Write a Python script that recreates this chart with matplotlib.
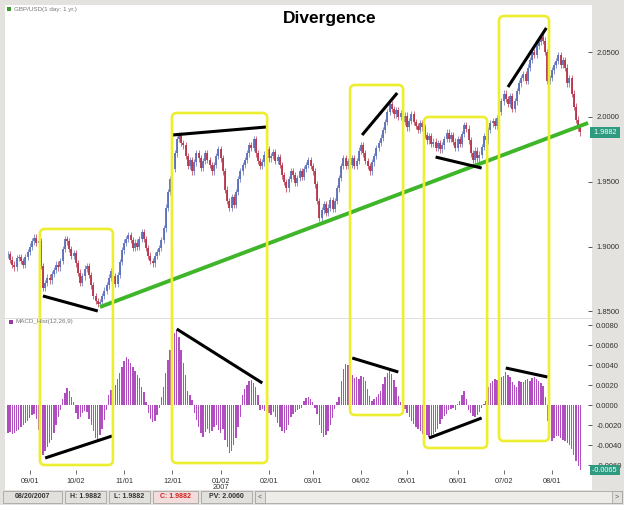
import numpy as np
import pandas as pd
import matplotlib
matplotlib.use('Agg')
import matplotlib.pyplot as plt
from matplotlib.patches import FancyBboxPatch, Rectangle
from matplotlib.lines import Line2D
from matplotlib.transforms import IdentityTransform

plt.rcParams['font.family'] = ['Liberation Sans', 'DejaVu Sans']

# GBP/USD daily closes, 2006-08-18 .. 2007-08-20
closes = [
    1.894, 1.890, 1.886, 1.884, 1.891, 1.892, 1.889, 1.886, 1.892, 1.896,
    1.900, 1.904, 1.907, 1.903, 1.904, 1.885, 1.868, 1.872, 1.876, 1.874,
    1.879, 1.882, 1.886, 1.884, 1.889, 1.898, 1.906, 1.904, 1.898, 1.893,
    1.895, 1.887, 1.880, 1.872, 1.877, 1.883, 1.885, 1.878, 1.870, 1.862,
    1.858, 1.856, 1.857, 1.862, 1.866, 1.870, 1.876, 1.881, 1.877, 1.871,
    1.878, 1.888, 1.897, 1.903, 1.906, 1.909, 1.905, 1.899, 1.903, 1.900,
    1.906, 1.911, 1.906, 1.899, 1.893, 1.889, 1.887, 1.893, 1.896, 1.899,
    1.905, 1.914, 1.930, 1.942, 1.952, 1.960, 1.972, 1.983, 1.986, 1.980,
    1.978, 1.970, 1.962, 1.967, 1.958, 1.965, 1.972, 1.968, 1.961, 1.966,
    1.972, 1.967, 1.963, 1.958, 1.963, 1.970, 1.975, 1.968, 1.958, 1.944,
    1.935, 1.930, 1.938, 1.932, 1.942, 1.952, 1.958, 1.963, 1.967, 1.972,
    1.978, 1.976, 1.983, 1.972, 1.966, 1.962, 1.965, 1.971, 1.975, 1.968,
    1.970, 1.973, 1.966, 1.969, 1.963, 1.955, 1.950, 1.945, 1.952, 1.958,
    1.955, 1.949, 1.953, 1.958, 1.954, 1.960, 1.963, 1.967, 1.962, 1.958,
    1.948, 1.935, 1.922, 1.928, 1.933, 1.926, 1.930, 1.936, 1.929, 1.935,
    1.945, 1.953, 1.962, 1.968, 1.962, 1.966, 1.963, 1.968, 1.962, 1.966,
    1.974, 1.978, 1.972, 1.966, 1.962, 1.958, 1.965, 1.970, 1.976, 1.980,
    1.984, 1.990, 1.996, 2.004, 2.010, 2.006, 2.002, 2.005, 2.000, 2.003,
    1.996, 2.001, 1.992, 1.997, 2.002, 1.996, 1.993, 1.990, 1.995, 1.992,
    1.986, 1.982, 1.985, 1.979, 1.981, 1.976, 1.980, 1.975, 1.978, 1.983,
    1.988, 1.983, 1.986, 1.981, 1.976, 1.983, 1.979, 1.987, 1.994, 1.991,
    1.982, 1.972, 1.967, 1.974, 1.968, 1.971, 1.977, 1.985, 1.982, 1.990,
    1.995, 1.997, 1.993, 1.999, 2.004, 2.012, 2.018, 2.014, 2.010, 2.016,
    2.006, 2.012, 2.020, 2.026, 2.030, 2.033, 2.028, 2.038, 2.044, 2.050,
    2.048, 2.055, 2.058, 2.062, 2.059, 2.050, 2.028, 2.030, 2.036, 2.040,
    2.043, 2.048, 2.040, 2.044, 2.038, 2.026, 2.030, 2.018, 2.008, 1.998,
    1.992, 1.9882,
]

# MACD histogram (12,26,9), in units of 1e-4
macd_hist = [
    -28, -27, -29, -28, -26, -25, -22, -20, -18, -16,
    -13, -10, -9, -14, -25, -38, -50, -46, -42, -38,
    -35, -28, -20, -12, -5, 6, 12, 17, 14, 8,
    3, -8, -14, -12, -8, -6, -7, -14, -20, -26,
    -33, -35, -30, -24, -15, -5, 10, 15, 16, 20,
    26, 32, 38, 44, 48, 46, 42, 38, 34, 30,
    27, 18, 13, 3, -8, -14, -17, -16, -10, -3,
    8, 18, 32, 45, 55, 65, 72, 75, 68, 55,
    42, 30, 14, 10, 5, -8, -15, -22, -28, -32,
    -27, -24, -28, -26, -22, -20, -25, -28, -24, -35,
    -42, -48, -46, -40, -33, -22, -12, 10, 16, 20,
    24, 25, 22, 18, 10, -5, -4, -6, -5, -8,
    -10, -7, -12, -18, -22, -26, -28, -25, -20, -12,
    -9, -7, -5, -4, -3, 4, 7, 8, 6, 3,
    -3, -9, -20, -28, -32, -30, -26, -20, -13, -4,
    3, 8, 24, 36, 41, 40, 34, 30, 27, 28,
    26, 29, 28, 24, 16, 9, 4, 6, 8, 11,
    14, 21, 28, 32, 34, 31, 25, 18, 9, 3,
    -1, -4, -8, -12, -16, -19, -22, -24, -26, -29,
    -28, -30, -32, -31, -29, -27, -24, -19, -14, -11,
    -9, -5, -4, -3, -5, 1, 4, 10, 14, 6,
    -5, -8, -11, -12, -10, -7, -3, 1, 4, 18,
    22, 24, 26, 25, 28, 28, 29, 33, 30, 28,
    23, 20, 18, 24, 23, 23, 25, 26, 24, 27,
    28, 26, 24, 22, 19, 8, -16, -30, -36, -33,
    -31, -31, -33, -35, -36, -38, -40, -44, -50, -56,
    -61, -65,
]

tick_dates = ['2006-09-01', '2006-10-02', '2006-11-01', '2006-12-01', '2007-01-02',
              '2007-02-01', '2007-03-01', '2007-04-02', '2007-05-01', '2007-06-01',
              '2007-07-02', '2007-08-01']
tick_labels = ['09/01', '10/02', '11/01', '12/01', '01/02\n2007', '02/01', '03/01',
               '04/02', '05/01', '06/01', '07/02', '08/01']
price_ticks = [1.85, 1.90, 1.95, 2.00, 2.05]
macd_ticks = [-0.006, -0.004, -0.002, 0.0, 0.002, 0.004, 0.006, 0.008]

# divergence annotations: (day0, value0, day1, value1)
price_lines = [(16, 1.8619, 41, 1.8503), (75, 1.9861, 118, 1.9923),
               (161.5, 1.9861, 177.5, 2.0185), (195, 1.9691, 216, 1.9606),
               (228, 2.0231, 245.5, 2.0687)]
macd_lines = [(17, -0.0053, 47.5, -0.0031), (77, 0.0076, 116, 0.0022),
              (157, 0.0047, 178, 0.0033), (192, -0.0033, 216, -0.0013),
              (227, 0.0037, 246, 0.0028)]
trend_line = (42, 1.8534, 264.5, 1.9954)
# highlight boxes: (day0, day1, top price, bottom macd)
boxes = [(14.6, 47.9, 1.9136, -0.0060), (74.8, 118.2, 2.0031, -0.0058),
         (156.0, 180.2, 2.0247, -0.0010), (189.7, 218.5, 2.0000, -0.0043),
         (223.9, 246.7, 2.0779, -0.0036)]

dates = pd.bdate_range('2006-08-18', '2007-08-20')
closes = np.array(closes)
hist = np.array(macd_hist) * 1e-4
x = np.arange(len(closes))
opens = np.r_[closes[0], closes[:-1]]
tick_pos = [dates.get_loc(pd.Timestamp(d)) for d in tick_dates]

W, H = 624, 505
fig = plt.figure(figsize=(W / 100, H / 100), dpi=100, facecolor='#e4e2de')


def rect(x0, y0, x1, y1):
    return [x0 / W, 1 - y1 / H, (x1 - x0) / W, (y1 - y0) / H]


def disp(px, py):
    return px, H - py


ident = IdentityTransform()
fig.patches.append(Rectangle(disp(5, 490), 587, 485, transform=ident,
                             fc='white', ec='none', zorder=-5))

ax = fig.add_axes(rect(5, 5, 592, 318))
ax2 = fig.add_axes(rect(5, 318, 592, 470), sharex=ax)
for a in (ax, ax2):
    a.set_facecolor('none')
    for s in a.spines.values():
        s.set_visible(False)
    a.yaxis.tick_right()
    a.tick_params(axis='y', direction='in', length=3, width=0.7, color='#555555',
                  labelsize=5.5, labelcolor='#333333', pad=3)

ax.set_xlim(-1.3, 266.3)
ax.set_ylim(1.8449, 2.0864)
ax2.set_ylim(-0.0065, 0.0087)

# candles
up = closes >= opens
blue, red = '#5b6db8', '#b8334a'
wick = 0.0025
lo = np.minimum(opens, closes)
hi = np.maximum(opens, closes)
ax.vlines(x[up], lo[up] - wick, hi[up] + wick, color=blue, lw=0.5)
ax.vlines(x[~up], lo[~up] - wick, hi[~up] + wick, color=red, lw=0.5)
ax.vlines(x[up], lo[up], hi[up], color=blue, lw=1.3)
ax.vlines(x[~up], lo[~up], hi[~up], color=red, lw=1.3)
ax.set_yticks(price_ticks)
ax.set_yticklabels(['%.4f' % v for v in price_ticks])
ax.tick_params(axis='x', bottom=False, labelbottom=False)

# MACD histogram
ax2.bar(x, hist, width=0.62, color='#b04ec0')
ax2.set_yticks(macd_ticks)
ax2.set_yticklabels(['%.4f' % v for v in macd_ticks])
ax2.set_xticks(tick_pos)
ax2.set_xticklabels(tick_labels)
ax2.tick_params(axis='x', direction='out', length=3, width=0.6, color='#555555',
                labelsize=5.3, labelcolor='#333333', pad=3)
for lab in ax2.get_xticklabels():
    lab.set_linespacing(0.8)

# separator between panels
fig.lines.append(Line2D([5 / W, 592 / W], [1 - 318 / H] * 2, transform=fig.transFigure,
                        color='#d8d8d8', lw=0.6, zorder=-1))

# trend line and divergence lines
ax.plot([trend_line[0], trend_line[2]], [trend_line[1], trend_line[3]],
        color='#3fb62a', lw=2.8, clip_on=False, zorder=4, solid_capstyle='butt')
for x0, y0, x1, y1 in price_lines:
    ax.plot([x0, x1], [y0, y1], color='black', lw=2.2, zorder=5, solid_capstyle='butt')
for x0, y0, x1, y1 in macd_lines:
    ax2.plot([x0, x1], [y0, y1], color='black', lw=2.2, zorder=5, solid_capstyle='butt')

# yellow highlight boxes across both panels
for d0, d1, ptop, mbot in boxes:
    x0, y1 = ax.transData.transform((d0, ptop))
    x1, y0 = ax2.transData.transform((d1, mbot))
    fig.patches.append(FancyBboxPatch((x0, y0), x1 - x0, y1 - y0,
                                      boxstyle='round,pad=0,rounding_size=5',
                                      transform=ident, fill=False,
                                      ec='#eeee30', lw=1.9, zorder=3))

# last value tags
ax.text(1.0, closes[-1], ' %.4f ' % closes[-1], transform=ax.get_yaxis_transform(),
        ha='left', va='center', fontsize=5.2, color='white', clip_on=False, zorder=6,
        bbox=dict(boxstyle='square,pad=0.25', fc='#2e9a80', ec='none'))
ax2.text(1.0, hist[-1], '%.4f ' % hist[-1], transform=ax2.get_yaxis_transform(),
         ha='left', va='center', fontsize=5.2, color='white', clip_on=False, zorder=6,
         bbox=dict(boxstyle='square,pad=0.25', fc='#2e9a80', ec='none'))

# panel labels
fig.patches.append(Rectangle(disp(7, 11), 4, 4, transform=ident, fc='#3a9a2a', ec='none'))
fig.text(14 / W, 1 - 9 / H, 'GBP/USD(1 day: 1 yr.)', fontsize=4.5, color='#777777',
         va='center')
fig.patches.append(Rectangle(disp(9, 324), 4, 4, transform=ident, fc='#9a3aa0', ec='none'))
fig.text(16 / W, 1 - 322 / H, 'MACD_Hist(12,26,9)', fontsize=4.5, color='#777777',
         va='center')

fig.text(330 / W, 1 - 19 / H, 'Divergence', ha='center', va='center', fontsize=12.5,
         fontweight='bold', color='black')

# status bar
status = [(3, 62, '08/20/2007', '#333333', '#e2e0dc'),
          (65, 106, 'H: 1.9882', '#333333', '#e2e0dc'),
          (109, 150, 'L: 1.9882', '#333333', '#e2e0dc'),
          (153, 198, 'C: 1.9882', '#d02020', '#f2dcdc'),
          (201, 252, 'PV: 2.0060', '#333333', '#e2e0dc')]
for a, b, txt, tc, fc in status:
    fig.patches.append(Rectangle(disp(a, 503), b - a, 12, transform=ident,
                                 fc=fc, ec='#a8a6a2', lw=0.6))
    fig.text((a + b) / 2 / W, 1 - 497 / H, txt, ha='center', va='center',
             fontsize=5, fontweight='bold', color=tc)
fig.patches.append(Rectangle(disp(255, 503), 367, 12, transform=ident,
                             fc='#eeece8', ec='#a8a6a2', lw=0.6))
for a, txt in [(255, '<'), (612, '>')]:
    fig.patches.append(Rectangle(disp(a, 503), 10, 12, transform=ident,
                                 fc='#e2e0dc', ec='#a8a6a2', lw=0.6))
    fig.text((a + 5) / W, 1 - 497 / H, txt, ha='center', va='center',
             fontsize=5, color='#555555')

fig.savefig('out.png', dpi=100, facecolor=fig.get_facecolor())
